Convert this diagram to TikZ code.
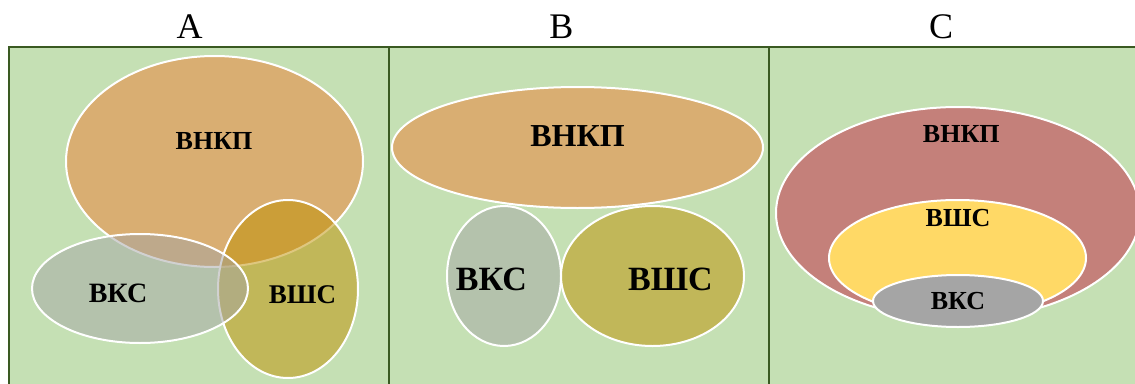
\documentclass[tikz,border=0pt]{standalone}
\usepackage{fontspec}
\setmainfont{Liberation Serif}
\usetikzlibrary{shapes.geometric}
\definecolor{panelfill}{HTML}{C5E0B4}
\definecolor{panelline}{HTML}{3A5A22}
\definecolor{vorange}{HTML}{ED7D31}
\definecolor{vgold}{HTML}{BF9000}
\definecolor{vgrey}{HTML}{A5A5A5}
\definecolor{cred}{HTML}{C4807A}
\definecolor{cyellow}{HTML}{FFD966}
\begin{document}
\begin{tikzpicture}[x=1pt,y=-1pt,
  panel/.style={rectangle, draw=panelline, line width=2.4pt, fill=panelfill, anchor=north west, inner sep=0pt, minimum height=360pt},
  venn/.style={ellipse, draw=white, line width=2pt, inner sep=0pt, outer sep=0pt},
  semi/.style={venn, fill opacity=0.5},
  ttl/.style={anchor=base, inner sep=0pt, font=\fontsize{36}{40}\selectfont},
  lbl/.style={anchor=base, inner sep=0pt, font=\bfseries\fontsize{#1}{#1}\selectfont},
  lbl/.default=26]
\useasboundingbox (0,0) rectangle (1135,383);
\begin{scope}
\clip (0,0) rectangle (1135,383);
% panels
\node[panel, minimum width=380pt] (pA) at (8,46) {};
\node[panel, minimum width=380pt] (pB) at (388,46) {};
\node[panel, minimum width=380pt] (pC) at (768,46) {};
% titles
\node[ttl] (tA) at (189.5,38.3) {A};
\node[ttl] (tB) at (561.3,38.3) {B};
\node[ttl] (tC) at (941,38.3) {C};
% panel A
\node[semi, fill=vorange, minimum width=297pt, minimum height=211pt] (aP) at (214.5,161.5) {};
\node[semi, fill=vgold, minimum width=140pt, minimum height=178pt] (aS) at (288,289) {};
\node[semi, fill=vgrey, minimum width=216pt, minimum height=109pt] (aK) at (140,288.5) {};
\node[lbl] (aPt) at (214,149) {ВНКП};
\node[lbl=28] (aKt) at (118,302) {ВКС};
\node[lbl=27] (aSt) at (302.5,303) {ВШС};
% panel B
\node[semi, fill=vorange, minimum width=371pt, minimum height=121pt] (bP) at (577.5,147.5) {};
\node[semi, fill=vgrey, minimum width=114pt, minimum height=140pt] (bK) at (504,276) {};
\node[semi, fill=vgold, minimum width=183pt, minimum height=140pt] (bS) at (652.5,276) {};
\node[lbl=32] (bPt) at (577.5,146) {ВНКП};
\node[lbl=34] (bKt) at (491.5,290.7) {ВКС};
\node[lbl=34] (bSt) at (670.5,290.7) {ВШС};
% panel C
\node[venn, fill=cred, minimum width=364pt, minimum height=212pt] (cP) at (958,213) {};
\node[venn, fill=cyellow, minimum width=257pt, minimum height=116pt] (cS) at (957.5,258) {};
\node[venn, fill=vgrey, minimum width=170pt, minimum height=52pt] (cK) at (958,301) {};
\node[lbl] (cPt) at (961.3,142) {ВНКП};
\node[lbl] (cSt) at (958,226.7) {ВШС};
\node[lbl] (cKt) at (958,309) {ВКС};
\end{scope}
\end{tikzpicture}
\end{document}
